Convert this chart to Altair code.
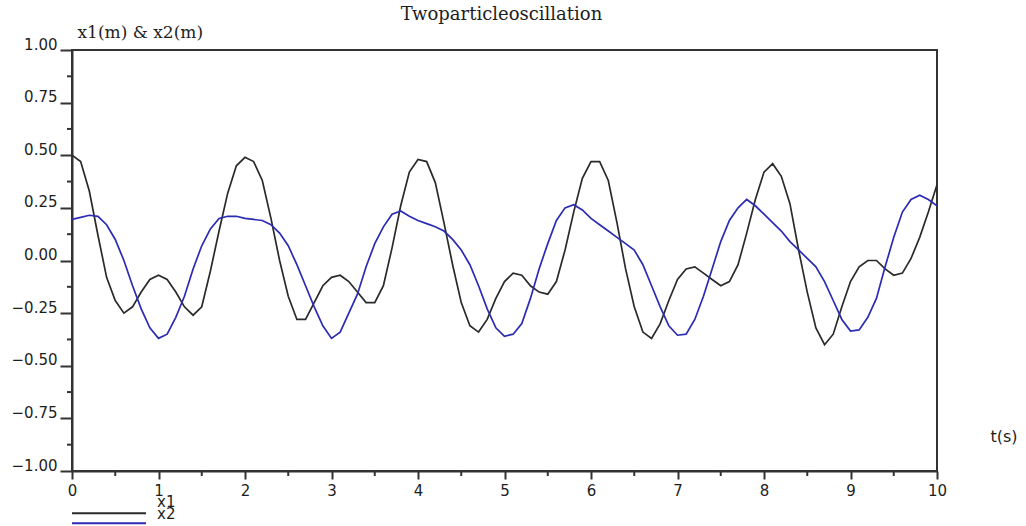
import altair as alt
import pandas as pd

# sample times (s)
t = [round(0.1 * i, 1) for i in range(101)]

# particle 1 displacement (m)
x1 = [0.50, 0.47, 0.33, 0.12, -0.08, -0.19, -0.25, -0.22, -0.15, -0.09,
      -0.07, -0.09, -0.15, -0.22, -0.26, -0.22, -0.05, 0.14, 0.32, 0.45,
      0.49, 0.47, 0.38, 0.20, 0.00, -0.17, -0.28, -0.28, -0.20, -0.12,
      -0.08, -0.07, -0.10, -0.15, -0.20, -0.20, -0.12, 0.06, 0.26, 0.42,
      0.48, 0.47, 0.37, 0.18, -0.02, -0.20, -0.31, -0.34, -0.28, -0.18,
      -0.10, -0.06, -0.07, -0.12, -0.15, -0.16, -0.10, 0.05, 0.23, 0.39,
      0.47, 0.47, 0.38, 0.18, -0.04, -0.22, -0.34, -0.37, -0.30, -0.19,
      -0.09, -0.04, -0.03, -0.06, -0.09, -0.12, -0.10, -0.02, 0.13, 0.29,
      0.42, 0.46, 0.40, 0.27, 0.05, -0.15, -0.32, -0.40, -0.35, -0.22,
      -0.10, -0.03, 0.00, 0.00, -0.04, -0.07, -0.06, 0.01, 0.11, 0.23,
      0.36]

# particle 2 displacement (m)
x2 = [0.195, 0.205, 0.215, 0.21, 0.17, 0.10, 0.00, -0.12, -0.23, -0.32,
      -0.37, -0.35, -0.27, -0.17, -0.04, 0.07, 0.15, 0.20, 0.21, 0.21,
      0.20, 0.195, 0.19, 0.17, 0.13, 0.07, -0.02, -0.12, -0.22, -0.31,
      -0.37, -0.34, -0.25, -0.16, -0.03, 0.08, 0.16, 0.22, 0.235, 0.21,
      0.19, 0.175, 0.16, 0.14, 0.10, 0.05, -0.02, -0.12, -0.23, -0.32,
      -0.36, -0.35, -0.30, -0.18, -0.04, 0.08, 0.19, 0.25, 0.265, 0.24,
      0.20, 0.17, 0.14, 0.11, 0.08, 0.05, -0.02, -0.12, -0.22, -0.31,
      -0.355, -0.35, -0.28, -0.17, -0.04, 0.09, 0.19, 0.25, 0.29, 0.26,
      0.22, 0.18, 0.14, 0.09, 0.05, 0.01, -0.03, -0.10, -0.19, -0.28,
      -0.335, -0.33, -0.27, -0.18, -0.03, 0.11, 0.23, 0.29, 0.31, 0.29,
      0.26]

series_names = ["x1", "x2"]
series_colors = ["#2a2a2a", "#2b2bb5"]

x_major = list(range(11))
x_minor = [0.5, 1.5, 2.5, 3.5, 4.5, 5.5, 6.5, 7.5, 8.5, 9.5]
y_major = [-1.0, -0.75, -0.5, -0.25, 0.0, 0.25, 0.5, 0.75, 1.0]
y_minor = [-0.875, -0.625, -0.375, -0.125, 0.125, 0.375, 0.625, 0.875]

W, H = 865, 421
AXIS = "#333333"
INK = "#1e1e1e"
SANS = "DejaVu Sans"
SERIF = "DejaVu Serif"

df = pd.DataFrame(
    [{"t": ti, "x": v, "series": "x1"} for ti, v in zip(t, x1)]
    + [{"t": ti, "x": v, "series": "x2"} for ti, v in zip(t, x2)]
)

xs = alt.Scale(domain=[0, 10], nice=False, zero=False)
ys = alt.Scale(domain=[-1, 1], nice=False, zero=False)

lines = alt.Chart(df).mark_line(strokeWidth=1.7, clip=True).encode(
    x=alt.X(
        "t:Q", scale=xs,
        axis=alt.Axis(
            values=x_major, format="d", tickSize=8, tickWidth=2, tickColor=AXIS,
            domainColor=AXIS, domainWidth=2, labelPadding=4, labelFont=SANS,
            labelFontSize=15, labelColor=INK, labelFlush=False, grid=False,
            title="t(s)", titleAngle=0, titleAlign="left", titleBaseline="middle",
            titleX=918, titleY=-35, titleFont=SANS, titleFontSize=16,
            titleFontWeight="normal", titleColor=INK,
        ),
    ),
    y=alt.Y(
        "x:Q", scale=ys,
        axis=alt.Axis(
            values=y_major, format=".2f", tickSize=12, tickWidth=2, tickColor=AXIS,
            domainColor=AXIS, domainWidth=2, labelPadding=3, labelFont=SANS,
            labelFontSize=15, labelColor=INK, labelBaseline="alphabetic",
            labelOffset=-1, labelFlush=False, grid=False,
            title="x1(m) & x2(m)", titleAngle=0, titleAlign="left",
            titleBaseline="alphabetic", titleX=5, titleY=-13, titleFont=SERIF,
            titleFontSize=17, titleFontWeight="normal", titleColor=INK,
        ),
    ),
    color=alt.Color("series:N", scale=alt.Scale(domain=series_names, range=series_colors), legend=None),
    order="t:Q",
)

# minor ticks on both axes
y_minor_ticks = alt.Chart(pd.DataFrame({"x": y_minor})).mark_rule(
    color=AXIS, strokeWidth=2
).encode(y=alt.Y("x:Q", scale=ys), x=alt.value(-5), x2=alt.value(0))

x_minor_ticks = alt.Chart(pd.DataFrame({"t": x_minor})).mark_rule(
    color=AXIS, strokeWidth=2
).encode(x=alt.X("t:Q", scale=xs), y=alt.value(H), y2=alt.value(H + 5))

# chart title above the plot frame
title = alt.Chart(pd.DataFrame({"label": ["Twoparticleoscillation"]})).mark_text(
    align="center", baseline="alphabetic", font=SERIF, fontSize=18, color=INK
).encode(x=alt.value(W / 2 - 3), y=alt.value(-30), text="label:N")

# legend below the axis
leg = pd.DataFrame({
    "series": series_names,
    "line_y": [H + 42.3, H + 52.3],
    "label_y": [H + 31, H + 43],
})
leg_lines = alt.Chart(leg).mark_rule(strokeWidth=2).encode(
    x=alt.value(0), x2=alt.value(74),
    y=alt.Y("line_y:Q", scale=None),
    color=alt.Color("series:N", scale=alt.Scale(domain=series_names, range=series_colors), legend=None),
)
leg_text = alt.Chart(leg).mark_text(
    align="left", baseline="middle", font=SANS, fontSize=15, color=INK
).encode(x=alt.value(85), y=alt.Y("label_y:Q", scale=None), text="series:N")

chart = alt.layer(lines, y_minor_ticks, x_minor_ticks, title, leg_lines, leg_text).properties(
    width=W, height=H,
    autosize=alt.AutoSizeParams(type="none"),
    padding={"left": 72, "top": 50, "right": 89, "bottom": 55},
    background="white",
).configure_view(stroke=AXIS, strokeWidth=2)

chart.save("out.html", embed_options={"renderer": "svg", "actions": False})
